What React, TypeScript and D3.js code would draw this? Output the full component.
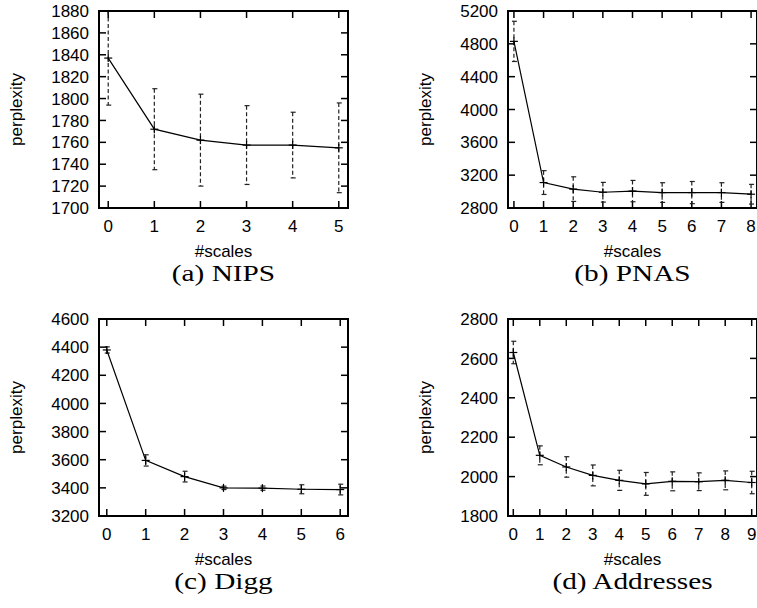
import React from "react";
import * as d3 from "d3";

// ---- data ----
const nipsScales = [0, 1, 2, 3, 4, 5];
const nipsMean = [1837, 1772, 1762, 1757.5, 1757.5, 1755];
const nipsErr = [43, 37, 42, 36, 30, 41];
const nipsTicks = [1700, 1720, 1740, 1760, 1780, 1800, 1820, 1840, 1860, 1880];

const pnasScales = [0, 1, 2, 3, 4, 5, 6, 7, 8];
const pnasMean = [4830, 3110, 3030, 2992, 3006, 2988, 2988, 2988, 2968];
const pnasErr = [245, 145, 150, 120, 130, 120, 135, 120, 120];
const pnasTicks = [2800, 3200, 3600, 4000, 4400, 4800, 5200];

const diggScales = [0, 1, 2, 3, 4, 5, 6];
const diggMean = [4380, 3595, 3480, 3400, 3398, 3390, 3388];
const diggErr = [22, 40, 38, 12, 15, 32, 38];
const diggTicks = [3200, 3400, 3600, 3800, 4000, 4200, 4400, 4600];

const addrScales = [0, 1, 2, 3, 4, 5, 6, 7, 8, 9];
const addrMean = [2630, 2108, 2049, 2006, 1981, 1963, 1976, 1974, 1981, 1970];
const addrErr = [57, 48, 52, 53, 51, 58, 48, 45, 48, 57];
const addrTicks = [1800, 2000, 2200, 2400, 2600, 2800];

const captions = ["(a) NIPS", "(b) PNAS", "(c) Digg", "(d) Addresses"];
const xLabel = "#scales";
const yLabel = "perplexity";

const W = 249;
const H = 197;
const TICK = 7;
const SANS = "'Liberation Sans', Arial, Helvetica, sans-serif";
const SERIF = "'Liberation Serif', 'Times New Roman', serif";

type PanelProps = {
  x0: number;
  y0: number;
  xs: number[];
  mean: number[];
  err: number[];
  yTicks: number[];
  caption: string;
  id: string;
};

function Panel({ x0, y0, xs, mean, err, yTicks, caption, id }: PanelProps) {
  const xMax = xs[xs.length - 1];
  const x = d3.scaleLinear().domain([-0.2, xMax + 0.2]).range([0, W]);
  const y = d3
    .scaleLinear()
    .domain([yTicks[0], yTicks[yTicks.length - 1]])
    .range([H, 0]);
  const line = d3
    .line<number>()
    .x((_, i) => x(xs[i]))
    .y((d) => y(d));
  return (
    <g transform={`translate(${x0},${y0})`}>
      <defs>
        <clipPath id={id}>
          <rect x={0} y={0} width={W} height={H} />
        </clipPath>
      </defs>
      {yTicks.map((t) => (
        <g key={"y" + t}>
          <line x1={0} x2={TICK} y1={y(t)} y2={y(t)} stroke="#000" strokeWidth={1.5} />
          <line x1={W - TICK} x2={W} y1={y(t)} y2={y(t)} stroke="#000" strokeWidth={1.5} />
          <text
            x={-10}
            y={y(t)}
            dy="0.36em"
            textAnchor="end"
            fontFamily={SANS}
            fontSize={17}
            fill="#000"
          >
            {t}
          </text>
        </g>
      ))}
      {xs.map((t) => (
        <g key={"x" + t}>
          <line x1={x(t)} x2={x(t)} y1={H} y2={H - TICK} stroke="#000" strokeWidth={1.5} />
          <line x1={x(t)} x2={x(t)} y1={0} y2={TICK} stroke="#000" strokeWidth={1.5} />
          <text
            x={x(t)}
            y={H + 24}
            textAnchor="middle"
            fontFamily={SANS}
            fontSize={17}
            fill="#000"
          >
            {t}
          </text>
        </g>
      ))}
      <g clipPath={`url(#${id})`}>
        {xs.map((t, i) => {
          const cx = x(t);
          const top = y(mean[i] + err[i]);
          const bot = y(mean[i] - err[i]);
          return (
            <g key={"e" + t}>
              <line
                x1={cx}
                x2={cx}
                y1={top}
                y2={bot}
                stroke="#222"
                strokeWidth={1.2}
                strokeDasharray="4,2.5"
              />
              <line x1={cx - 2} x2={cx + 3} y1={top} y2={top} stroke="#222" strokeWidth={1.2} />
              <line x1={cx - 2} x2={cx + 3} y1={bot} y2={bot} stroke="#222" strokeWidth={1.2} />
            </g>
          );
        })}
        <path d={line(mean) || ""} fill="none" stroke="#000" strokeWidth={1.2} />
        {xs.map((t, i) => (
          <g key={"p" + t}>
            <line x1={x(t) - 4} x2={x(t) + 4} y1={y(mean[i])} y2={y(mean[i])} stroke="#000" strokeWidth={1.2} />
            <line x1={x(t)} x2={x(t)} y1={y(mean[i]) - 4} y2={y(mean[i]) + 4} stroke="#000" strokeWidth={1.2} />
          </g>
        ))}
      </g>
      <rect x={0} y={0} width={W} height={H} fill="none" stroke="#000" strokeWidth={2} />
      <text
        x={W / 2}
        y={H + 49}
        textAnchor="middle"
        fontFamily={SANS}
        fontSize={17}
        fill="#000"
      >
        {xLabel}
      </text>
      <text
        transform={`translate(-77,${H / 2}) rotate(-90)`}
        textAnchor="middle"
        fontFamily={SANS}
        fontSize={17}
        fill="#000"
      >
        {yLabel}
      </text>
      <text
        transform={`translate(${W / 2},${H + 73}) scale(1.22,1)`}
        textAnchor="middle"
        fontFamily={SERIF}
        fontSize={24}
        fill="#000"
      >
        {caption}
      </text>
    </g>
  );
}

export default function App() {
  return (
    <svg
      width={757}
      height={608}
      style={{ position: "absolute", left: 0, top: 0, background: "#fff" }}
    >
      <rect width={757} height={608} fill="#fff" />
      <Panel id="c1" x0={99} y0={11} xs={nipsScales} mean={nipsMean} err={nipsErr} yTicks={nipsTicks} caption={captions[0]} />
      <Panel id="c2" x0={508} y0={11} xs={pnasScales} mean={pnasMean} err={pnasErr} yTicks={pnasTicks} caption={captions[1]} />
      <Panel id="c3" x0={99} y0={319} xs={diggScales} mean={diggMean} err={diggErr} yTicks={diggTicks} caption={captions[2]} />
      <Panel id="c4" x0={508} y0={319} xs={addrScales} mean={addrMean} err={addrErr} yTicks={addrTicks} caption={captions[3]} />
    </svg>
  );
}
